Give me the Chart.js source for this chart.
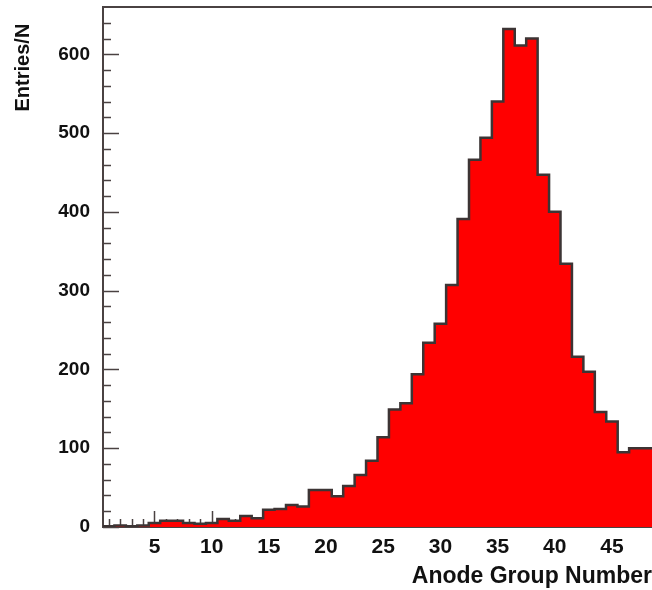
<!DOCTYPE html>
<html>
<head>
<meta charset="utf-8">
<script src="https://cdn.jsdelivr.net/npm/chart.js@4/dist/chart.umd.min.js"></script>
<style>
  body { margin: 0; background: #fff; }
</style>
</head>
<body>
<canvas id="histo" width="652" height="590"></canvas>
<script>
// anode group number (bin centres) and entries per bin
var binCenters = [1, 2, 3, 4, 5, 6, 7, 8, 9, 10, 11, 12, 13, 14, 15, 16,
  17, 18, 19, 20, 21, 22, 23, 24, 25, 26, 27, 28, 29, 30, 31, 32,
  33, 34, 35, 36, 37, 38, 39, 40, 41, 42, 43, 44, 45, 46, 47, 48];
var entries = [1, 1, 2, 1, 2, 5, 8, 8, 5, 4, 5, 10, 8, 14, 11, 22,
  23, 28, 26, 47, 47, 39, 52, 66, 84, 114, 149, 157, 194, 234, 258, 307,
  391, 466, 494, 540, 632, 611, 620, 447, 400, 334, 216, 197, 146, 134, 95, 100];

var xTickLabels = [5, 10, 15, 20, 25, 30, 35, 40, 45];
var yTickLabels = [0, 100, 200, 300, 400, 500, 600];

var xMin = 0.5, xMax = 48.5;
var yMin = 0, yMax = 660;

// step outline: one point on the left edge of every bin, plus the last right edge
var stepPoints = binCenters.map(function(c, i){
  return {x: c - 0.5, y: entries[i]};
});
stepPoints.push({x: binCenters[binCenters.length - 1] + 0.5, y: entries[entries.length - 1]});

var axisColor = '#4a4242';

// inward ticks and top frame, like the original plot
var innerTicks = {
  id: 'innerTicks',
  beforeDatasetsDraw: function(chart){
    var ctx = chart.ctx;
    var xs = chart.scales.x, ys = chart.scales.y;
    var area = chart.chartArea;
    ctx.save();
    ctx.strokeStyle = axisColor;
    ctx.lineWidth = 1.5;
    for (var v = 1; v <= 48; v++) {
      var px = Math.round(xs.getPixelForValue(v)) + 0.5;
      var len = (v % 5 == 0) ? 16 : 8;
      ctx.beginPath();
      ctx.moveTo(px, area.bottom);
      ctx.lineTo(px, area.bottom - len);
      ctx.stroke();
    }
    for (var w = 0; w <= 640; w += 20) {
      var py = Math.round(ys.getPixelForValue(w)) + 0.5;
      var l = (w % 100 == 0) ? 16 : 8;
      ctx.beginPath();
      ctx.moveTo(area.left, py);
      ctx.lineTo(area.left + l, py);
      ctx.stroke();
    }
    ctx.lineWidth = 2;
    ctx.beginPath();
    ctx.moveTo(area.left, area.top);
    ctx.lineTo(area.right, area.top);
    ctx.stroke();
    ctx.restore();
  }
};

var ctx = document.getElementById('histo').getContext('2d');
var myChart = new Chart(ctx, {
  type: 'line',
  plugins: [innerTicks],
  data: {
    datasets: [{
      data: stepPoints,
      stepped: 'after',
      fill: 'origin',
      backgroundColor: '#ff0000',
      borderColor: '#3c3434',
      borderWidth: 2.5,
      pointRadius: 0,
      pointHoverRadius: 0
    }]
  },
  options: {
    responsive: false,
    animation: false,
    layout: {
      padding: {top: 7, right: 0, left: 0, bottom: 0}
    },
    scales: {
      x: {
        type: 'linear',
        min: xMin,
        max: xMax,
        z: 1,
        afterFit: function(scale){
          scale.height = 63;
          scale.paddingLeft = 0;
          scale.paddingRight = 0;
        },
        afterBuildTicks: function(scale){
          scale.ticks = xTickLabels.map(function(v){ return {value: v}; });
        },
        grid: {display: false, drawTicks: false},
        border: {display: true, color: axisColor, width: 2},
        ticks: {
          padding: 8,
          color: '#111',
          maxRotation: 0,
          font: {family: 'Liberation Sans', weight: 'bold', size: 21}
        },
        title: {
          display: true,
          text: 'Anode Group Number',
          align: 'end',
          color: '#111',
          padding: {top: 0, bottom: 0},
          font: {family: 'Liberation Sans', weight: 'bold', size: 23}
        }
      },
      y: {
        min: yMin,
        max: yMax,
        z: 1,
        afterFit: function(scale){
          scale.width = 103;
          scale.paddingTop = 0;
          scale.paddingBottom = 0;
        },
        afterBuildTicks: function(scale){
          scale.ticks = yTickLabels.map(function(v){ return {value: v}; });
        },
        grid: {display: false, drawTicks: false},
        border: {display: true, color: axisColor, width: 2},
        ticks: {
          padding: 13,
          color: '#111',
          font: {family: 'Liberation Sans', weight: 'bold', size: 19}
        },
        title: {
          display: true,
          text: 'Entries/N   ',
          align: 'end',
          color: '#111',
          padding: {top: 11, bottom: 0},
          font: {family: 'Liberation Sans', weight: 'bold', size: 20}
        }
      }
    },
    plugins: {
      legend: {display: false},
      title: {display: false},
      tooltip: {enabled: false}
    }
  }
});
</script>
</body>
</html>
